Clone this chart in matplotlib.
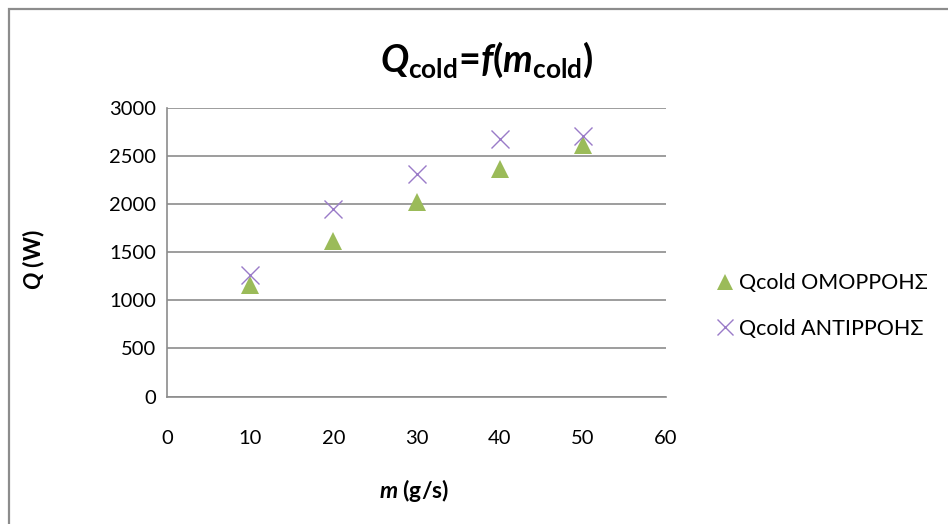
import matplotlib
matplotlib.use("Agg")
import matplotlib.pyplot as plt
from matplotlib.patches import Rectangle

# data
m_cold = [10, 20, 30, 40, 50]
q_parallel = [1163, 1621, 2027, 2365, 2618]   # ΟΜΟΡΡΟΗΣ
q_counter = [1266, 1949, 2311, 2677, 2711]    # ΑΝΤΙΡΡΟΗΣ
labels = ["Qcold ΟΜΟΡΡΟΗΣ", "Qcold ΑΝΤΙΡΡΟΗΣ"]

plt.rcParams['font.family'] = ['Lato', 'Noto Sans', 'DejaVu Sans']
plt.rcParams['mathtext.fontset'] = 'custom'
plt.rcParams['mathtext.rm'] = 'Lato:bold'
plt.rcParams['mathtext.it'] = 'Lato:italic:bold'
plt.rcParams['mathtext.bf'] = 'Lato:bold'

fig = plt.figure(figsize=(9.48, 5.24), dpi=100)
# chart border
fig.patches.append(Rectangle((9/948, -0.1), 1.2, 1 - 9/524 + 0.1, transform=fig.transFigure,
                             fill=False, edgecolor='#8c8c8c', linewidth=1.6))

ax = fig.add_axes([167/948, 1 - 396.5/524, 499/948, 288.5/524])

green = '#9BBB59'
purple = '#9A7BC8'
ax.plot(m_cold, q_parallel, linestyle='none', marker='^', markersize=13.5,
        color=green, markeredgewidth=0, label=labels[0], zorder=3)
ax.plot(m_cold, q_counter, linestyle='none', marker='x', markersize=13.5,
        color=purple, markeredgewidth=1.0, label=labels[1], zorder=4)

ax.set_xlim(0, 60)
ax.set_ylim(0, 3000)
ax.set_xticks(range(0, 61, 10))
ax.set_yticks(range(0, 3001, 500))
ax.yaxis.grid(True, color='#8c8c8c', linewidth=1.2)
ax.set_axisbelow(True)
ax.tick_params(length=0, labelsize=14.5, colors='black', pad=8)
ax.tick_params(axis='x', pad=24)
for s in ['top', 'right']:
    ax.spines[s].set_visible(False)
for s in ['left', 'bottom']:
    ax.spines[s].set_color('#8c8c8c')
    ax.spines[s].set_linewidth(1.2)

fig.text(487/948, 1 - 60/524,
         r'$\mathit{Q}_{\mathbf{cold}}\text{=}\mathit{f}\mathbf{(}\mathit{m}_{\mathbf{cold}}\mathbf{)}$',
         ha='center', va='center', fontsize=27)
fig.text(34/948, 1 - 260/524, r'$\mathit{Q}$ (W)', rotation=90, ha='center', va='center',
         fontsize=16.5, fontweight='bold')
fig.text(414/948, 1 - 490/524, r'$\mathit{m}$ (g/s)', ha='center', va='center',
         fontsize=16.5, fontweight='bold')

fig.legend(loc='center left', bbox_to_anchor=(716/948, 1 - 306/524), frameon=False,
           fontsize=15.5, handlelength=0.8, handletextpad=0.25, labelspacing=1.2,
           borderpad=0, borderaxespad=0, markerscale=0.9)

fig.savefig('out.png', dpi=100)
